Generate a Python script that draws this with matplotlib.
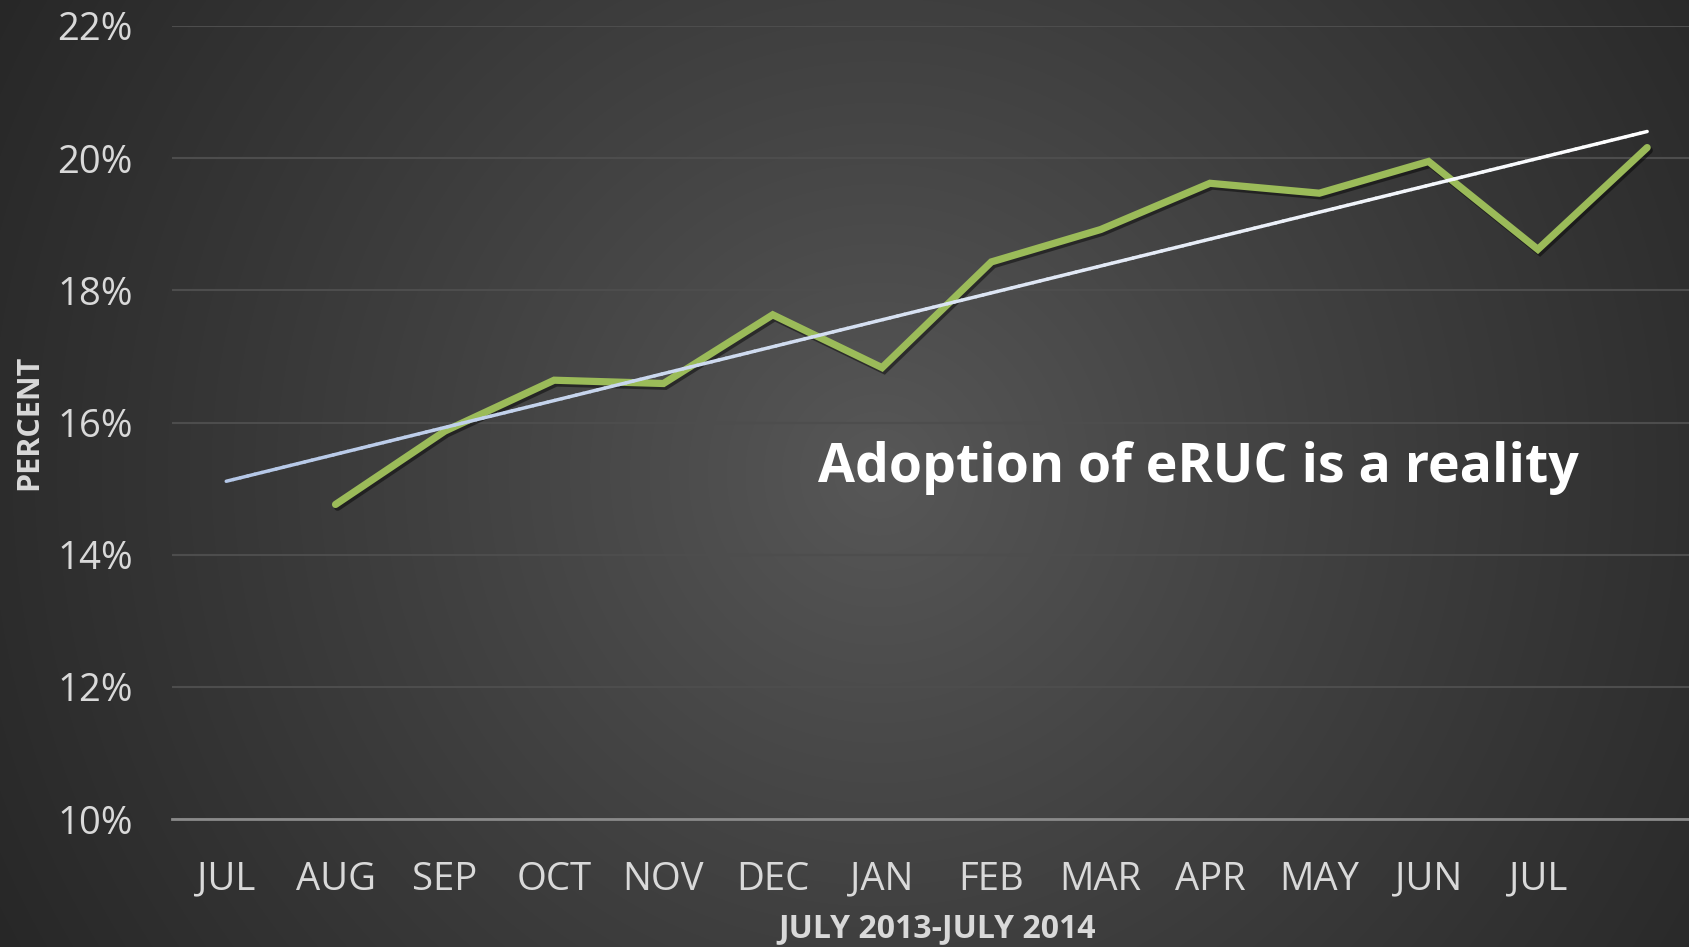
import numpy as np
import matplotlib
matplotlib.use("Agg")
import matplotlib.pyplot as plt
from matplotlib.collections import LineCollection
from matplotlib.colors import LinearSegmentedColormap
import matplotlib.patheffects as pe

# ---- data ----
month_labels = ["JUL", "AUG", "SEP", "OCT", "NOV", "DEC", "JAN",
                "FEB", "MAR", "APR", "MAY", "JUN", "JUL"]
adoption_pct = [14.76, 15.87, 16.64, 16.59, 17.63, 16.83, 18.43,
                18.92, 19.62, 19.47, 19.95, 18.62, 20.16]
y_ticks = [10, 12, 14, 16, 18, 20, 22]
y_tick_labels = ["10%", "12%", "14%", "16%", "18%", "20%", "22%"]
annotation = "Adoption of eRUC is a reality"
x_title = "JULY 2013-JULY 2014"
y_title = "PERCENT"

W, H = 1690, 947
fig = plt.figure(figsize=(W / 100, H / 100), dpi=100)

# radial gradient background
bg = fig.add_axes([0, 0, 1, 1], zorder=-10)
yy, xx = np.mgrid[0:H, 0:W]
cx, cy = 0.52 * W, 0.50 * H
r = np.sqrt(((xx - cx) / (0.62 * W)) ** 2 + ((yy - cy) / (0.62 * W)) ** 2)
r = np.clip(r, 0, 1)
inner, outer = 0x58 / 255, 0x25 / 255
val = inner + (outer - inner) * r ** 0.9
img = np.dstack([val, val, val])
bg.imshow(img, aspect="auto", extent=(0, 1, 0, 1), origin="upper")
bg.set_axis_off()

left_px, right_px = 171.6, 1690
bottom_px, top_px = 947 - 819, 947 - 26
ax = fig.add_axes([left_px / W, bottom_px / H, (right_px - left_px) / W,
                   (top_px - bottom_px) / H])
ax.patch.set_alpha(0)
step = 109.3
ax.set_xlim(-0.5, -0.5 + (right_px - left_px) / step)
ax.set_ylim(10, 22)

for s in ["top", "right", "left"]:
    ax.spines[s].set_visible(False)
ax.spines["bottom"].set_color("#8a8a8a")
ax.spines["bottom"].set_linewidth(2.0)
ax.spines["bottom"].set_zorder(1)

ax.set_yticks(y_ticks)
ax.set_yticklabels(y_tick_labels)
ax.yaxis.grid(True, color="#4d4d4d", linewidth=1.5)
ax.set_axisbelow(True)
ax.set_xticks(np.arange(len(month_labels)))
ax.set_xticklabels(month_labels)
ax.tick_params(axis="both", length=0, colors="#d9d9d9", labelsize=27.5)
ax.tick_params(axis="y", pad=28)
ax.tick_params(axis="x", pad=30)
for lab in ax.get_xticklabels() + ax.get_yticklabels():
    lab.set_fontfamily("Open Sans")

# data line
x_data = np.arange(1, len(adoption_pct) + 1)
ax.plot(x_data, adoption_pct, color="#9BBB59", linewidth=5.2,
        solid_capstyle="round", solid_joinstyle="miter", zorder=4,
        path_effects=[pe.SimpleLineShadow(offset=(1.5, -2), shadow_color="black", alpha=0.45),
                      pe.Normal()])

# linear trend (least squares) extended one period back
slope, intercept = np.polyfit(x_data, adoption_pct, 1)
tx = np.linspace(0, x_data[-1], 200)
ty = slope * tx + intercept
pts = np.array([tx, ty]).T.reshape(-1, 1, 2)
segs = np.concatenate([pts[:-1], pts[1:]], axis=1)
cmap = LinearSegmentedColormap.from_list("tr", ["#b4c7e7", "#ffffff"])
lc = LineCollection(segs, cmap=cmap, linewidth=2.5, zorder=5, capstyle="round")
lc.set_array(np.linspace(0, 1, len(segs)))
ax.add_collection(lc)

ax.text(818 / W, 1 - 468 / H, annotation, transform=fig.transFigure,
        fontsize=38.6, fontweight="bold", color="white", family="Open Sans",
        ha="left", va="center")

fig.text(937 / W, 1 - 929 / H, x_title, fontsize=23, fontweight="bold",
         color="#d9d9d9", family="Open Sans", ha="center", va="center")
fig.text(29 / W, 1 - 422 / H, y_title, fontsize=22, fontweight="bold",
         color="#d9d9d9", family="Open Sans", ha="center", va="center",
         rotation=90)

fig.savefig("out.png", dpi=100)
